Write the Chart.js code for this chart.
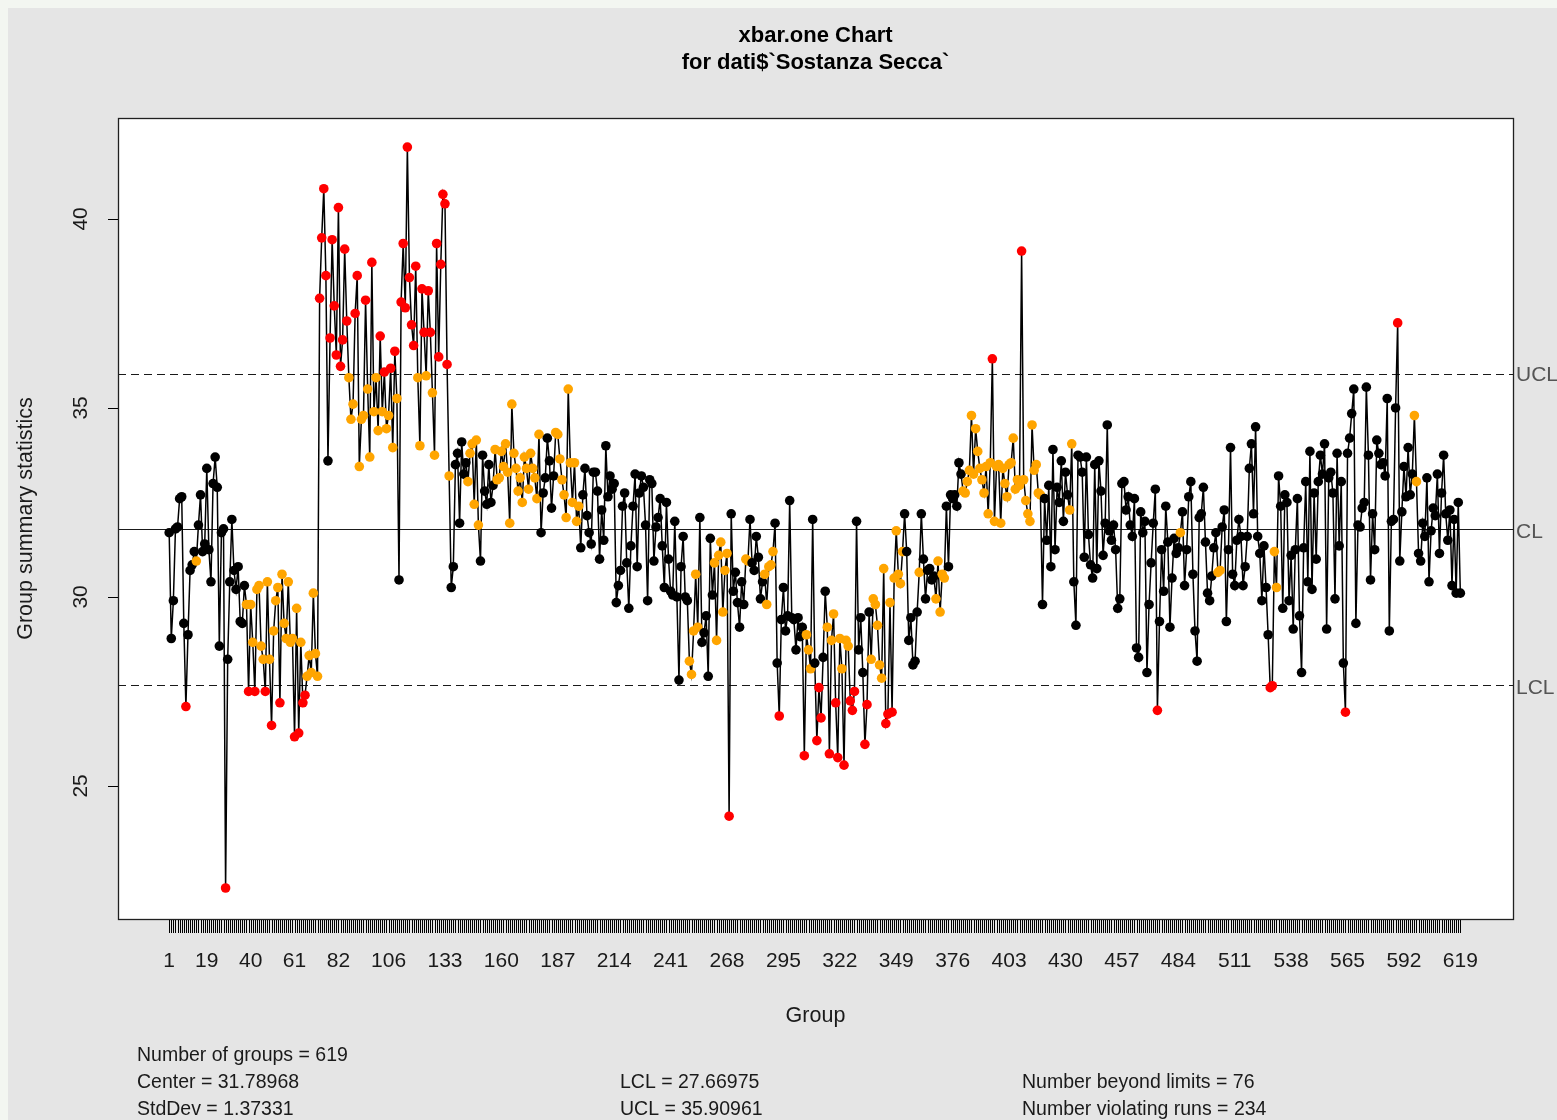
<!DOCTYPE html>
<html>
<head>
<meta charset="utf-8">
<title>xbar.one Chart</title>
<script src="https://cdn.jsdelivr.net/npm/chart.js@4.4.1/dist/chart.umd.min.js"></script>
<style>
    html, body { margin: 0; padding: 0; background: #f3f6f1; }
    canvas { display: block; }
</style>
</head>
<body>
<canvas id="xbar-chart" width="1557" height="1120"></canvas>
<script>
// xbar.one statistics for dati$`Sostanza Secca`
const groups001to100 = [
    31.7, 28.9, 29.9, 31.8, 31.85, 32.6, 32.65, 29.3, 27.1, 29.0,
    30.7, 30.85, 31.2, 30.95, 31.9, 32.7, 31.2, 31.4, 33.4, 31.25,
    30.4, 33.0, 33.7, 32.9, 28.7, 31.7, 31.8, 22.3, 28.35, 30.4,
    32.05, 30.7, 30.2, 30.8, 29.35, 29.3, 30.3, 29.8, 27.5, 29.8,
    28.8, 27.5, 30.2, 30.3, 28.7, 28.35, 27.5, 30.4, 28.35, 26.6,
    29.1, 29.9, 30.25, 27.2, 30.6, 29.3, 28.9, 30.4, 28.8, 28.9,
    26.3, 29.7, 26.4, 28.8, 27.2, 27.4, 27.9, 28.45, 28.0, 30.1,
    28.5, 27.9, 37.9, 39.5, 40.8, 38.5, 33.6, 36.85, 39.45, 37.7,
    36.4, 40.3, 36.1, 36.8, 39.2, 37.3, 35.8, 34.7, 35.1, 37.5,
    38.5, 33.45, 34.7, 34.8, 37.85, 35.5, 33.7, 38.85, 34.9, 35.8
];
const groups101to200 = [
    34.4, 36.9, 34.9, 35.95, 34.45, 34.8, 36.05, 33.95, 36.5, 35.25,
    30.45, 37.8, 39.35, 37.65, 41.9, 38.45, 37.2, 36.65, 38.75, 35.8,
    34.0, 38.15, 37.0, 35.85, 38.1, 37.0, 35.4, 33.75, 39.35, 36.35,
    38.8, 40.65, 40.4, 36.15, 33.2, 30.25, 30.8, 33.5, 33.8, 31.95,
    34.1, 33.25, 33.55, 33.05, 33.8, 34.05, 32.45, 34.15, 31.9, 30.95,
    33.75, 32.8, 32.45, 33.5, 32.5, 32.95, 33.9, 33.1, 33.15, 33.85,
    33.45, 34.05, 33.3, 31.95, 35.1, 33.8, 33.4, 32.8, 33.15, 32.5,
    33.7, 33.4, 32.85, 33.8, 33.4, 33.15, 32.6, 34.3, 31.7, 32.75,
    33.15, 34.2, 33.6, 32.35, 33.2, 34.35, 34.3, 33.65, 33.1, 32.7,
    32.1, 35.5, 33.55, 32.5, 33.55, 32.0, 32.4, 31.3, 32.7, 33.4
];
const groups201to300 = [
    32.15, 31.7, 31.4, 33.3, 33.3, 32.8, 31.0, 32.3, 31.5, 34.0,
    32.65, 33.2, 32.85, 33.0, 29.85, 30.3, 30.7, 32.4, 32.75, 30.9,
    29.7, 31.35, 32.4, 33.25, 30.8, 32.75, 33.2, 32.9, 31.9, 29.9,
    33.1, 33.0, 30.95, 31.85, 32.1, 32.6, 31.35, 30.25, 32.5, 31.0,
    30.15, 30.05, 32.0, 30.0, 27.8, 30.8, 31.6, 30.0, 29.9, 28.3,
    27.95, 29.1, 30.6, 29.2, 32.1, 28.8, 29.05, 29.5, 27.9, 31.55,
    30.05, 30.9, 28.85, 31.1, 31.45, 29.6, 30.7, 31.15, 24.2, 32.2,
    30.15, 30.65, 29.85, 29.2, 30.4, 29.8, 31.0, 30.95, 32.05, 30.9,
    30.7, 31.6, 31.05, 29.95, 30.4, 30.6, 29.8, 30.8, 30.85, 31.2,
    31.95, 28.25, 26.85, 29.4, 30.25, 29.1, 29.5, 32.55, 29.45, 29.4
];
const groups301to400 = [
    28.6, 29.45, 28.95, 29.2, 25.8, 29.0, 28.6, 28.1, 32.05, 28.25,
    26.2, 27.6, 26.8, 28.4, 30.15, 29.2, 25.85, 28.85, 29.55, 27.2,
    25.75, 28.9, 28.1, 25.55, 28.85, 28.7, 27.25, 27.0, 27.5, 32.0,
    28.6, 29.45, 28.0, 26.1, 27.15, 29.6, 28.35, 29.95, 29.8, 29.25,
    28.2, 27.85, 30.75, 26.65, 26.9, 29.85, 26.95, 30.5, 31.75, 30.6,
    30.35, 31.2, 32.2, 31.2, 28.85, 29.45, 28.2, 28.3, 29.6, 30.65,
    32.2, 31.0, 29.95, 30.7, 30.75, 30.45, 30.55, 29.95, 30.95, 29.6,
    30.6, 30.5, 32.4, 30.8, 32.7, 32.6, 32.7, 32.4, 33.55, 33.25,
    32.8, 32.75, 33.05, 33.35, 34.8, 33.25, 34.45, 33.85, 33.4, 33.1,
    32.75, 33.45, 32.2, 33.55, 36.3, 32.0, 33.45, 33.5, 31.95, 33.4
];
const groups401to500 = [
    33.0, 32.65, 33.5, 33.55, 34.2, 32.85, 33.1, 32.95, 39.15, 33.1,
    32.55, 32.2, 32.0, 34.55, 33.35, 33.5, 32.75, 32.7, 29.8, 32.6,
    31.5, 32.95, 30.8, 33.9, 31.25, 32.9, 32.5, 33.6, 32.0, 33.3,
    32.7, 32.3, 34.05, 30.4, 29.25, 33.75, 33.7, 33.3, 31.05, 33.7,
    31.65, 30.85, 30.5, 33.5, 30.75, 33.6, 32.8, 31.1, 31.95, 34.55,
    31.75, 31.5, 31.9, 31.25, 29.7, 29.95, 33.0, 33.05, 32.3, 32.65,
    31.9, 31.6, 32.6, 28.65, 28.4, 32.25, 31.7, 32.0, 28.0, 29.8,
    30.9, 31.95, 32.85, 27.0, 29.35, 31.25, 30.15, 32.4, 31.45, 29.2,
    30.5, 31.55, 31.15, 31.3, 31.7, 32.25, 30.3, 31.25, 32.65, 33.05,
    30.6, 29.1, 28.3, 32.1, 32.2, 32.9, 31.45, 30.1, 29.9, 30.55
];
const groups501to600 = [
    31.3, 31.7, 30.65, 30.7, 31.85, 32.3, 29.35, 31.25, 33.95, 30.6,
    30.3, 31.5, 32.05, 31.6, 30.3, 30.8, 31.6, 33.4, 34.05, 32.2,
    34.5, 31.6, 31.15, 29.9, 31.35, 30.25, 29.0, 27.6, 27.65, 31.2,
    30.25, 33.2, 32.4, 29.7, 32.7, 32.5, 29.9, 31.1, 29.15, 31.25,
    32.6, 29.5, 28.0, 31.3, 33.05, 30.4, 33.85, 30.2, 32.75, 31.0,
    33.05, 33.75, 33.25, 34.05, 29.15, 33.15, 33.3, 32.75, 29.95, 33.8,
    31.35, 33.05, 28.25, 26.95, 33.8, 34.2, 34.85, 35.5, 29.3, 31.9,
    31.85, 32.35, 32.5, 35.55, 33.75, 30.45, 32.2, 31.25, 34.15, 33.8,
    33.5, 33.55, 33.2, 35.25, 29.1, 32.0, 32.05, 35.0, 37.25, 30.95,
    32.25, 33.45, 32.65, 33.95, 32.7, 33.25, 34.8, 33.05, 31.15, 30.95
];
const groups601to619 = [
    31.95, 31.6, 33.15, 30.4, 31.75, 32.35, 32.15, 33.25, 31.15, 32.75,
    33.75, 32.2, 31.5, 32.3, 30.3, 32.05, 30.1, 32.5, 30.1
];

const tickGroups = [1, 19, 40, 61, 82, 106, 133, 160, 187, 214, 241, 268, 295, 322, 349, 376, 403, 430, 457, 484, 511, 538, 565, 592, 619];
const yTicks = [25, 30, 35, 40];
const center = 31.78968;
const lcl = 27.66975;
const ucl = 35.90961;
const runLength = 7;
const statsLeft = ['Number of groups = 619', 'Center = 31.78968', 'StdDev = 1.37331'];
const statsMid = ['LCL = 27.66975', 'UCL = 35.90961'];
const statsRight = ['Number beyond limits = 76', 'Number violating runs = 234'];

const stats = [].concat(groups001to100, groups101to200, groups201to300, groups301to400,
    groups401to500, groups501to600, groups601to619);

// red beyond limits, orange from the 7th point of a same-side run on
function pointColours(vals) {
    const cols = vals.map(v => (v > ucl || v < lcl) ? '#ff0000' : '#000000');
    let side = 0;
    let len = 0;
    vals.forEach((v, i) => {
        const s = Math.sign(v - center);
        if (s !== 0 && s === side) {
            len++;
        } else {
            side = s;
            len = 1;
        }
        if (len >= runLength && cols[i] === '#000000') cols[i] = '#ffa500';
    });
    return cols;
}

const FONT = '"Liberation Sans", Arial, sans-serif';

const qccFrame = {
    id: 'qccFrame',
    beforeDraw(chart) {
        const { ctx, chartArea: a } = chart;
        ctx.save();
        ctx.fillStyle = '#f3f6f1';
        ctx.fillRect(0, 0, chart.width, chart.height);
        ctx.fillStyle = '#e5e5e5';
        ctx.fillRect(8, 8, chart.width - 8, chart.height - 8);
        ctx.fillStyle = '#ffffff';
        ctx.fillRect(a.left, a.top, a.right - a.left, a.bottom - a.top);
        ctx.restore();
    },
    beforeDatasetsDraw(chart) {
        const { ctx, chartArea: a, scales: { y } } = chart;
        ctx.save();
        ctx.strokeStyle = '#1a1a1a';
        ctx.lineWidth = 1.2;
        [[ucl, [8, 5]], [center, []], [lcl, [8, 5]]].forEach(([v, dash]) => {
            const py = Math.round(y.getPixelForValue(v)) + 0.5;
            ctx.setLineDash(dash);
            ctx.beginPath();
            ctx.moveTo(a.left, py);
            ctx.lineTo(a.right, py);
            ctx.stroke();
        });
        ctx.restore();
    },
    afterDraw(chart) {
        const { ctx, chartArea: a, scales: { x, y } } = chart;
        ctx.save();

        // box
        ctx.strokeStyle = '#202020';
        ctx.lineWidth = 1.3;
        ctx.strokeRect(a.left + 0.5, a.top + 0.5, a.right - a.left, a.bottom - a.top);

        // x tick marks, one per group
        ctx.lineWidth = 1;
        ctx.strokeStyle = '#000000';
        ctx.beginPath();
        for (let g = 1; g <= stats.length; g++) {
            const px = Math.round(x.getPixelForValue(g)) + 0.5;
            ctx.moveTo(px, a.bottom + 1);
            ctx.lineTo(px, a.bottom + 14);
        }
        ctx.stroke();

        // y tick marks
        ctx.beginPath();
        yTicks.forEach(t => {
            const py = Math.round(y.getPixelForValue(t)) + 0.5;
            ctx.moveTo(a.left - 10, py);
            ctx.lineTo(a.left, py);
        });
        ctx.stroke();

        ctx.fillStyle = '#1a1a1a';
        ctx.textBaseline = 'middle';

        // x tick labels
        ctx.font = '21px ' + FONT;
        ctx.textAlign = 'center';
        tickGroups.forEach(g => {
            ctx.fillText(String(g), x.getPixelForValue(g), 961);
        });

        // y tick labels (rotated as in R)
        yTicks.forEach(t => {
            ctx.save();
            ctx.translate(81, y.getPixelForValue(t));
            ctx.rotate(-Math.PI / 2);
            ctx.fillText(String(t), 0, 0);
            ctx.restore();
        });

        // axis titles
        ctx.font = '21.5px ' + FONT;
        ctx.fillText('Group', (a.left + a.right) / 2, 1016);
        ctx.save();
        ctx.translate(26, (a.top + a.bottom) / 2);
        ctx.rotate(-Math.PI / 2);
        ctx.fillText('Group summary statistics', 0, 0);
        ctx.restore();

        // main title
        ctx.fillStyle = '#000000';
        ctx.font = 'bold 22px ' + FONT;
        ctx.fillText('xbar.one Chart', (a.left + a.right) / 2, 36);
        ctx.fillText('for dati$`Sostanza Secca`', (a.left + a.right) / 2, 63);

        // limit labels
        ctx.fillStyle = '#555555';
        ctx.font = '21px ' + FONT;
        ctx.textAlign = 'left';
        ctx.fillText('UCL', a.right + 3, y.getPixelForValue(ucl) + 2);
        ctx.fillText('CL', a.right + 3, y.getPixelForValue(center) + 3);
        ctx.fillText('LCL', a.right + 3, y.getPixelForValue(lcl) + 3);

        // summary
        ctx.fillStyle = '#1a1a1a';
        ctx.font = '19.5px ' + FONT;
        statsLeft.forEach((s, i) => ctx.fillText(s, 137, 1056 + i * 27));
        statsMid.forEach((s, i) => ctx.fillText(s, 620, 1083 + i * 27));
        statsRight.forEach((s, i) => ctx.fillText(s, 1022, 1083 + i * 27));

        ctx.restore();
    }
};

const canvas = document.getElementById('xbar-chart');

new Chart(canvas, {
    type: 'line',
    data: {
        datasets: [{
            label: 'xbar.one',
            data: stats.map((v, i) => ({ x: i + 1, y: v })),
            borderColor: '#000000',
            borderWidth: 1.5,
            tension: 0,
            fill: false,
            pointRadius: 4.8,
            pointHoverRadius: 4.8,
            pointBorderWidth: 0,
            pointBackgroundColor: pointColours(stats)
        }]
    },
    options: {
        responsive: false,
        animation: false,
        events: [],
        layout: {
            padding: { left: 118, right: 44, top: 118, bottom: 201 }
        },
        plugins: {
            legend: { display: false },
            tooltip: { enabled: false },
            title: { display: false }
        },
        scales: {
            x: { type: 'linear', display: false, min: -23.5, max: 644.2 },
            y: { type: 'linear', display: false, min: 21.48, max: 42.67 }
        }
    },
    plugins: [qccFrame]
});
</script>
</body>
</html>
